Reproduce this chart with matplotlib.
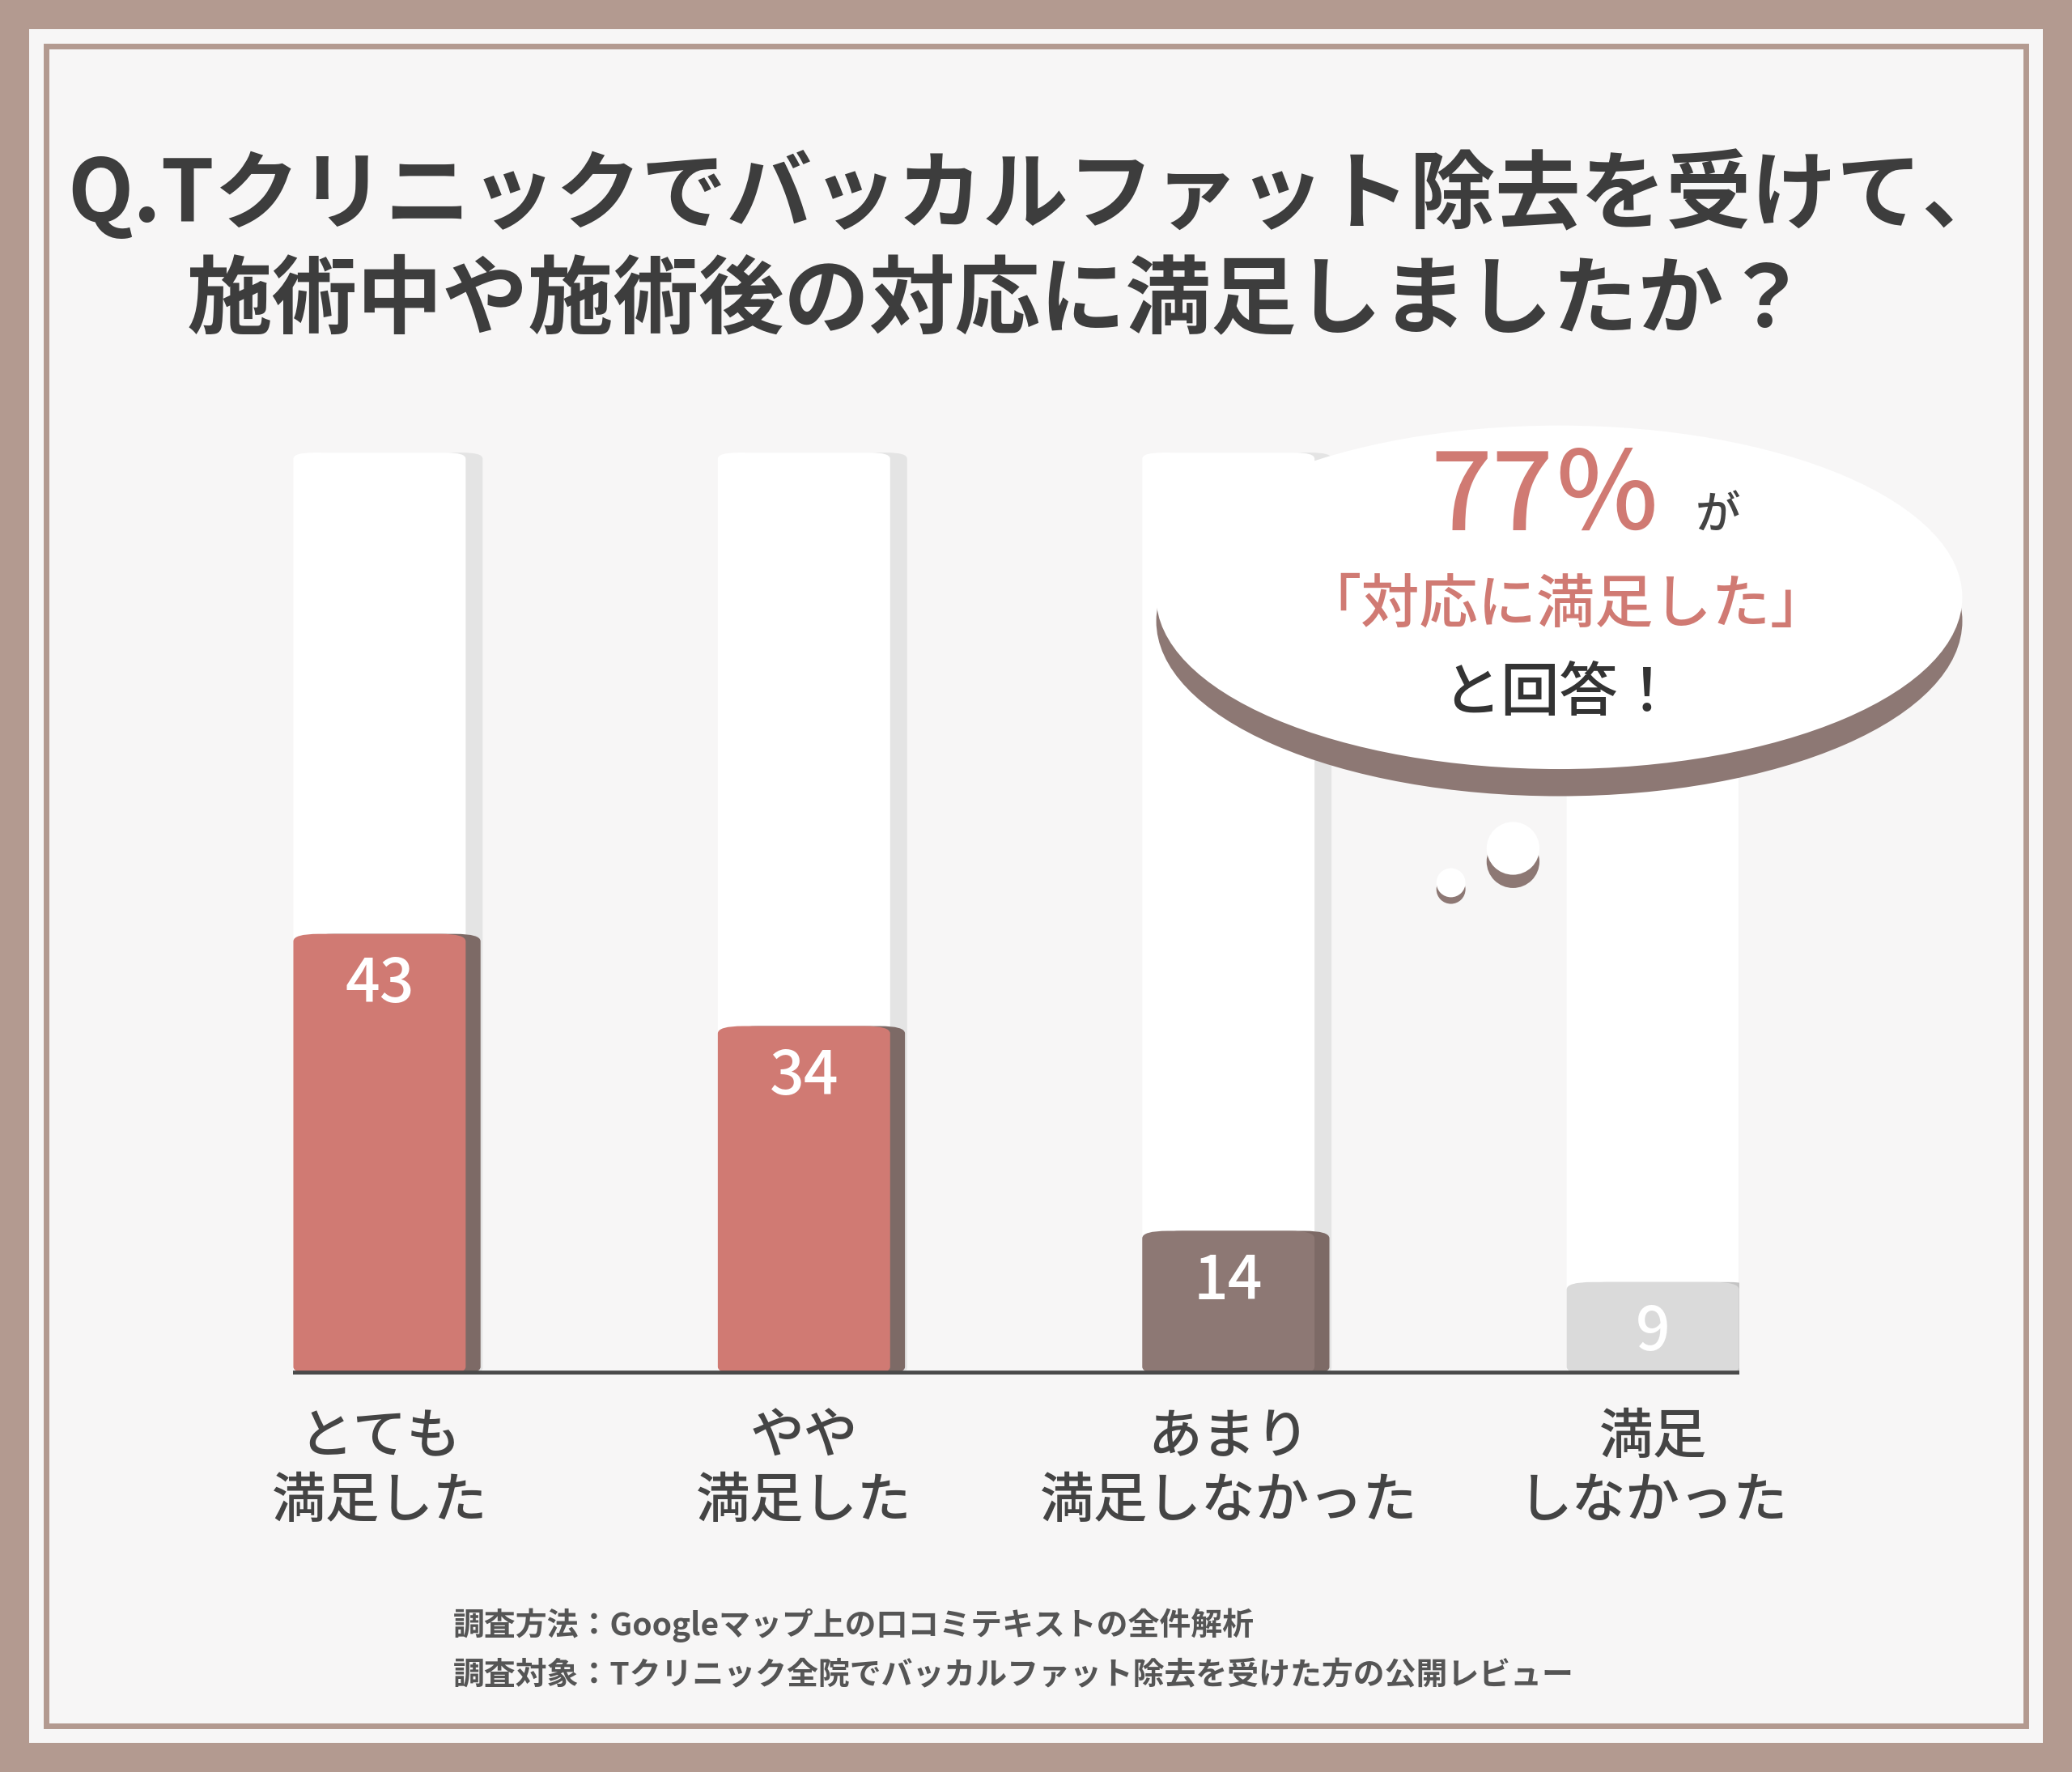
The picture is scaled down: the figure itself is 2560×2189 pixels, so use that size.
import matplotlib.pyplot as plt
from matplotlib.patches import Rectangle, FancyBboxPatch, Ellipse, Circle

plt.rcParams['font.family'] = ['Noto Sans CJK JP', 'DejaVu Sans']

categories = ['とても\n満足した', 'やや\n満足した', 'あまり\n満足しなかった', '満足\nしなかった']
values = [43, 34, 14, 9]
bar_colors = ['#d07a73', '#d07a73', '#8d7874', '#dadada']
title_lines = ['Q.Tクリニックでバッカルファット除去を受けて、', '施術中や施術後の対応に満足しましたか？']
notes = ['調査方法：Googleマップ上の口コミテキストの全件解析',
         '調査対象：Tクリニック全院でバッカルファット除去を受けた方の公開レビュー']

W, H = 1568, 1341
fig = plt.figure(figsize=(25.6, 21.89), dpi=100)
fig.patch.set_facecolor('#b39a90')

bg = fig.add_axes([0, 0, 1, 1])
bg.set_xlim(0, W)
bg.set_ylim(H, 0)
bg.axis('off')
bg.add_patch(Rectangle((22, 22), W - 44, H - 44, facecolor='#f7f6f6', edgecolor='none'))
bg.add_patch(Rectangle((35, 35), W - 70, H - 70, facecolor='none', edgecolor='#b39a90', lw=5))

bg.text(785, 148, title_lines[0], ha='center', va='center', fontsize=76,
        fontweight='bold', color='#3d3d3d')
bg.text(755, 228, title_lines[1], ha='center', va='center', fontsize=76,
        fontweight='bold', color='#3d3d3d')

for i, n in enumerate(notes):
    bg.text(343, 1230 + 38 * i, n, ha='left', va='center', fontsize=28,
            fontweight='bold', color='#555555')

# chart
ax = fig.add_axes([222 / W, 1 - 1040 / H, (1316 - 222) / W, (1040 - 265) / H])
ax.set_xlim(-0.203, 3.203)
ax.set_ylim(0, 100)
ax.axis('off')
bw = 0.406
x = range(len(values))
for xi, v, c in zip(x, values, bar_colors):
    # background pillar with shadow
    ax.add_patch(FancyBboxPatch((xi - bw / 2 + 0.04, 0), bw, 90, boxstyle='round,pad=0,rounding_size=0.05',
                                mutation_aspect=12, facecolor='#e4e4e4', edgecolor='none', zorder=1))
    ax.add_patch(FancyBboxPatch((xi - bw / 2, 0), bw, 90, boxstyle='round,pad=0,rounding_size=0.05',
                                mutation_aspect=12, facecolor='#ffffff', edgecolor='none', zorder=2))
    shade = '#7d6a66' if c != '#dadada' else '#c4c4c4'
    ax.add_patch(FancyBboxPatch((xi - bw / 2 + 0.035, 0), bw, v, boxstyle='round,pad=0,rounding_size=0.06',
                                mutation_aspect=12, facecolor=shade, edgecolor='none', zorder=3))
    ax.add_patch(FancyBboxPatch((xi - bw / 2, 0), bw, v, boxstyle='round,pad=0,rounding_size=0.06',
                                mutation_aspect=12, facecolor=c, edgecolor='none', zorder=4))
    ax.text(xi, v - 5, str(v), ha='center', va='center', fontsize=54,
            color='white', fontweight='medium', zorder=5)
ax.axhline(0, color='#4a4a4a', lw=7, zorder=6)
for xi, lab in zip(x, categories):
    ax.text(xi, -3.5, lab, ha='center', va='top', fontsize=48, color='#444444',
            linespacing=1.2, fontweight='medium', clip_on=False)

# speech bubble on overlay axes
ov = fig.add_axes([0, 0, 1, 1])
ov.set_xlim(0, W)
ov.set_ylim(H, 0)
ov.axis('off')
ov.patch.set_alpha(0)
ov.add_patch(Ellipse((1180, 470), 610, 265, facecolor='#8d7874', edgecolor='none', zorder=5))
ov.add_patch(Ellipse((1180, 452), 610, 260, facecolor='white', edgecolor='none', zorder=6))
ov.add_patch(Circle((1145, 652), 20, facecolor='#8d7874', zorder=5))
ov.add_patch(Circle((1145, 642), 20, facecolor='white', zorder=6))
ov.add_patch(Circle((1098, 673), 11, facecolor='#8d7874', zorder=5))
ov.add_patch(Circle((1098, 668), 11, facecolor='white', zorder=6))
ov.text(1170, 378, '77％', ha='center', va='center', fontsize=96, color='#d07a73',
        fontweight='medium', zorder=7)
ov.text(1300, 390, 'が', ha='center', va='center', fontsize=40, color='#444444',
        fontweight='medium', zorder=7)
ov.text(1185, 458, '「対応に満足した」', ha='center', va='center', fontsize=52,
        color='#d07a73', fontweight='medium', zorder=7)
ov.text(1180, 525, 'と回答！', ha='center', va='center', fontsize=52,
        color='#333333', fontweight='medium', zorder=7)

fig.savefig('out.png', dpi=100, facecolor=fig.get_facecolor())
